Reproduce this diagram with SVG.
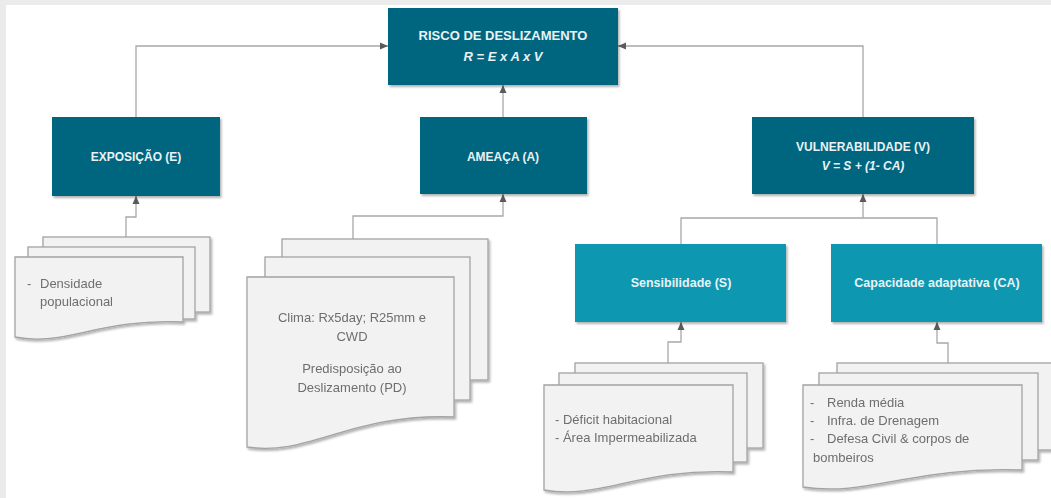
<svg xmlns="http://www.w3.org/2000/svg" width="1051" height="498" viewBox="0 0 1051 498">
<style>
.dark{fill:#06667f}
.light{fill:#0b97b1}
.t{font-family:"Liberation Sans",Arial,sans-serif;font-weight:bold;fill:#eaf2f5;text-anchor:middle}
.doc{fill:#f2f2f2;stroke:#a3a3a3;stroke-width:1.3}
.dt{font-family:"Liberation Sans",Arial,sans-serif;font-size:13px;fill:#6e6e6e}
.c{fill:none;stroke:#a8a8a8;stroke-width:1.3}
</style>
<defs>
<marker id="ah" markerUnits="userSpaceOnUse" markerWidth="8" markerHeight="8" refX="8" refY="4" orient="auto">
<path d="M0,0.5 L8,4 L0,7.5 Z" fill="#5a5a5a"/>
</marker>
<filter id="sh" x="-10%" y="-10%" width="120%" height="130%">
<feDropShadow dx="1.5" dy="2" stdDeviation="1.2" flood-color="#000" flood-opacity="0.3"/>
</filter>
</defs>
<rect x="0" y="0" width="1051" height="498" fill="#ebebeb"/>
<rect x="6" y="5" width="1045" height="493" fill="#ffffff"/>

<g id="connectors">
<path class="c" d="M136,117 V46 H388" marker-end="url(#ah)"/>
<path class="c" d="M503,117 V85" marker-end="url(#ah)"/>
<path class="c" d="M863,117 V46 H618" marker-end="url(#ah)"/>
<path class="c" d="M126,237 V217 H136 V196" marker-end="url(#ah)"/>
<path class="c" d="M353,239 V216 H503 V194" marker-end="url(#ah)"/>
<path class="c" d="M681,244 V218 H937 V244"/>
<path class="c" d="M863,218 V194" marker-end="url(#ah)"/>
<path class="c" d="M668,363 V342 H681 V322" marker-end="url(#ah)"/>
<path class="c" d="M948,363 V343 H937 V322" marker-end="url(#ah)"/>
</g>

<g id="risco">
<rect class="dark" x="388" y="8" width="230" height="77" filter="url(#sh)"/>
<text class="t" x="503" y="40" font-size="13">RISCO DE DESLIZAMENTO</text>
<text class="t" x="503" y="61" font-size="13" font-style="italic">R = E x A x V</text>
</g>

<g id="exposicao">
<rect class="dark" x="52" y="117" width="168" height="79" filter="url(#sh)"/>
<text class="t" x="136" y="161" font-size="12">EXPOSIÇÃO (E)</text>
</g>

<g id="ameaca">
<rect class="dark" x="420" y="117" width="167" height="77" filter="url(#sh)"/>
<text class="t" x="503" y="161" font-size="12">AMEAÇA (A)</text>
</g>

<g id="vulnerabilidade">
<rect class="dark" x="752" y="117" width="222" height="77" filter="url(#sh)"/>
<text class="t" x="863" y="151" font-size="12">VULNERABILIDADE (V)</text>
<text class="t" x="863" y="170" font-size="12" font-style="italic">V = S + (1- CA)</text>
</g>

<g id="sensibilidade">
<rect class="light" x="575" y="244" width="211" height="78" filter="url(#sh)"/>
<text class="t" x="681" y="287" font-size="12.5">Sensibilidade (S)</text>
</g>

<g id="capacidade">
<rect class="light" x="831" y="244" width="211" height="78" filter="url(#sh)"/>
<text class="t" x="937" y="287" font-size="12.5">Capacidade adaptativa (CA)</text>
</g>

<g id="docs-exposicao" filter="url(#sh)">
<rect class="doc" x="43" y="237" width="167" height="75"/>
<rect class="doc" x="28" y="247" width="167" height="72"/>
<path class="doc" d="M15,257 H183 V322 C99,318 65,347 15,337 Z"/>
<text class="dt" x="27" y="288">-</text>
<text class="dt" x="40" y="288">Densidade</text>
<text class="dt" x="40" y="306">populacional</text>
</g>

<g id="docs-ameaca" filter="url(#sh)">
<rect class="doc" x="282" y="239" width="206" height="141"/>
<rect class="doc" x="265" y="257" width="205" height="143"/>
<path class="doc" d="M247,277 H454 V417 C350,413 309,457 247,447 Z"/>
<text class="dt" x="352" y="322" text-anchor="middle">Clima: Rx5day; R25mm e</text>
<text class="dt" x="352" y="341" text-anchor="middle">CWD</text>
<text class="dt" x="352" y="373" text-anchor="middle">Predisposição ao</text>
<text class="dt" x="352" y="392" text-anchor="middle">Deslizamento (PD)</text>
</g>

<g id="docs-sensibilidade" filter="url(#sh)">
<rect class="doc" x="575" y="363" width="188" height="85"/>
<rect class="doc" x="559" y="373" width="188" height="89"/>
<path class="doc" d="M544,385 H733 V472 C638,468 601,500 544,490 Z"/>
<text class="dt" x="555" y="424">- Déficit habitacional</text>
<text class="dt" x="555" y="442">- Área Impermeabilizada</text>
</g>

<g id="docs-capacidade" filter="url(#sh)">
<rect class="doc" x="837" y="363" width="220" height="87"/>
<rect class="doc" x="819" y="373" width="219" height="87"/>
<path class="doc" d="M803,385 H1022 V470 C912,466 869,497 803,487 Z"/>
<text class="dt" x="810" y="407">-</text>
<text class="dt" x="827" y="407">Renda média</text>
<text class="dt" x="810" y="425">-</text>
<text class="dt" x="827" y="425">Infra. de Drenagem</text>
<text class="dt" x="810" y="443">-</text>
<text class="dt" x="827" y="443">Defesa Civil &amp; corpos de</text>
<text class="dt" x="813" y="462">bombeiros</text>
</g>
</svg>
